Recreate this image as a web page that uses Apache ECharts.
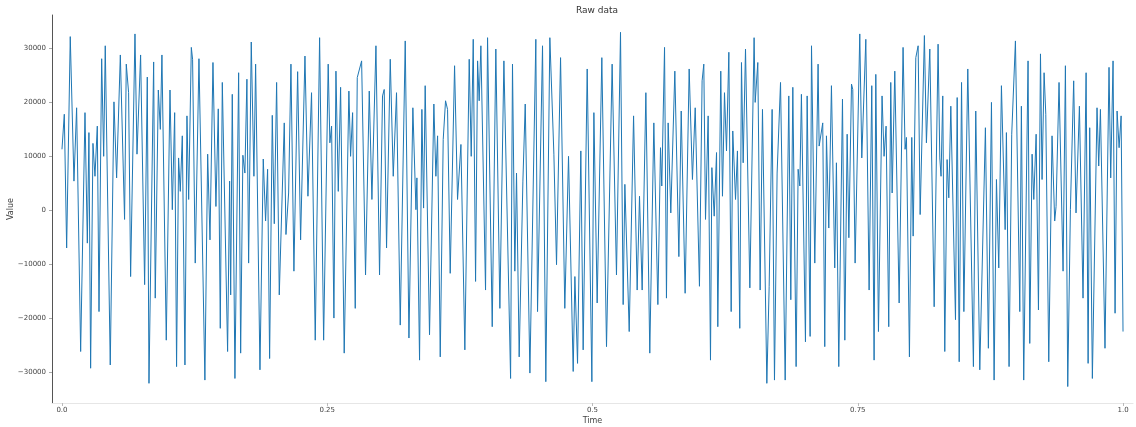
<!DOCTYPE html>
<html>
<head>
<meta charset="utf-8">
<script src="https://cdn.jsdelivr.net/npm/echarts@6/dist/echarts.min.js"></script>
<style>
html,body{margin:0;padding:0;background:#fff;}
#chart{width:1136px;height:427px;}
</style>
</head>
<body>
<div id="chart"></div>
<script>
const titleText = "Raw data";
const xLabel = "Time";
const yLabel = "Value";
const xTicks = [0, 0.25, 0.5, 0.75, 1.0];
const xTickLabels = ["0.0", "0.25", "0.5", "0.75", "1.0"];
const yTicks = [-30000, -20000, -10000, 0, 10000, 20000, 30000];

const times = [
0.0000,0.0022,0.0044,0.0078,0.0113,0.0138,0.0176,0.0217,0.0239,0.0254,0.0270,0.0292,0.0311,0.0333,0.0349,0.0374,0.0393,0.0408,0.0455,0.0490,
0.0515,0.0550,0.0590,0.0606,0.0628,0.0647,0.0688,0.0707,0.0741,0.0779,0.0804,0.0820,0.0864,0.0879,0.0908,0.0927,0.0942,0.0983,0.1018,0.1040,
0.1062,0.1080,0.1099,0.1115,0.1134,0.1159,0.1178,0.1194,0.1219,0.1231,0.1256,0.1291,0.1310,0.1347,0.1373,0.1395,0.1423,0.1451,0.1473,0.1492,
0.1511,0.1526,0.1561,0.1580,0.1590,0.1605,0.1630,0.1665,0.1684,0.1705,0.1724,0.1743,0.1759,0.1784,0.1809,0.1825,0.1866,0.1897,0.1919,0.1938,
0.1957,0.1982,0.2001,0.2023,0.2048,0.2095,0.2111,0.2136,0.2158,0.2186,0.2221,0.2249,0.2290,0.2318,0.2352,0.2387,0.2428,0.2466,0.2509,0.2525,
0.2541,0.2563,0.2582,0.2604,0.2626,0.2660,0.2704,0.2720,0.2739,0.2764,0.2783,0.2824,0.2861,0.2896,0.2921,0.2959,0.2993,0.3021,0.3037,0.3059,
0.3094,0.3122,0.3153,0.3188,0.3235,0.3270,0.3307,0.3336,0.3345,0.3370,0.3392,0.3408,0.3423,0.3464,0.3505,0.3524,0.3540,0.3565,0.3593,0.3615,
0.3634,0.3659,0.3700,0.3728,0.3760,0.3797,0.3838,0.3857,0.3876,0.3898,0.3917,0.3932,0.3948,0.3992,0.4011,0.4055,0.4089,0.4127,0.4165,0.4228,
0.4246,0.4268,0.4284,0.4309,0.4344,0.4366,0.4410,0.4466,0.4482,0.4529,0.4560,0.4598,0.4636,0.4661,0.4699,0.4739,0.4774,0.4818,0.4834,0.4859,
0.4890,0.4912,0.4950,0.4994,0.5013,0.5044,0.5088,0.5132,0.5185,0.5226,0.5264,0.5289,0.5305,0.5346,0.5387,0.5421,0.5443,0.5468,0.5503,0.5540,
0.5578,0.5616,0.5641,0.5653,0.5679,0.5697,0.5713,0.5738,0.5776,0.5814,0.5836,0.5873,0.5911,0.5942,0.5968,0.6008,0.6033,0.6049,0.6065,0.6090,
0.6112,0.6125,0.6147,0.6169,0.6181,0.6209,0.6225,0.6244,0.6263,0.6285,0.6307,0.6322,0.6348,0.6366,0.6388,0.6404,0.6420,0.6442,0.6483,0.6523,
0.6533,0.6558,0.6580,0.6602,0.6643,0.6665,0.6693,0.6715,0.6740,0.6772,0.6816,0.6850,0.6869,0.6888,0.6919,0.6938,0.6954,0.6969,0.7007,0.7023,
0.7051,0.7064,0.7095,0.7126,0.7136,0.7170,0.7189,0.7205,0.7227,0.7252,0.7283,0.7299,0.7321,0.7356,0.7378,0.7400,0.7416,0.7441,0.7453,0.7475,
0.7519,0.7538,0.7576,0.7607,0.7632,0.7654,0.7670,0.7695,0.7729,0.7748,0.7767,0.7792,0.7811,0.7824,0.7849,0.7890,0.7927,0.7946,0.7959,0.7987,
0.8009,0.8022,0.8047,0.8069,0.8088,0.8128,0.8147,0.8179,0.8220,0.8257,0.8273,0.8285,0.8301,0.8320,0.8342,0.8358,0.8377,0.8421,0.8437,0.8456,
0.8478,0.8500,0.8537,0.8556,0.8590,0.8612,0.8650,0.8703,0.8731,0.8760,0.8785,0.8807,0.8829,0.8854,0.8889,0.8901,0.8926,0.8951,0.8986,0.9027,
0.9042,0.9064,0.9105,0.9121,0.9143,0.9159,0.9181,0.9203,0.9222,0.9237,0.9256,0.9272,0.9300,0.9331,0.9356,0.9369,0.9397,0.9435,0.9457,0.9479,
0.9504,0.9535,0.9557,0.9589,0.9623,0.9652,0.9671,0.9686,0.9711,0.9755,0.9771,0.9787,0.9830,0.9868,0.9884,0.9906,0.9925,0.9944,0.9963,0.9982,
1.0000
];

const values = [
11300,17800,-7000,32200,5400,19000,-26200,18100,-6100,14400,-29300,12400,6300,15600,-18800,28100,10000,30500,-28700,20100,
6000,28800,-1700,27100,21800,-12300,32700,10400,28800,-13800,24700,-32100,27500,-16300,22300,15000,28800,-24100,22300,100,
18100,-29000,9700,3500,13800,-28700,17500,2000,30200,28000,-9800,28100,8200,-31500,10400,-5500,27400,700,18800,-21900,
23700,23800,-26200,5400,-15700,21500,-31200,25500,-26500,10200,6900,24300,-9800,31200,6300,27100,-29600,9500,-2000,7600,
-27500,17600,-2500,23700,-15700,16200,-4500,3200,27100,-11300,25700,-5500,28600,2600,21800,-24100,32000,-24100,27100,12500,
15600,-20000,25800,3500,22800,-26500,22100,10000,18100,-18200,24600,27700,-12000,22100,2000,30500,-12000,21200,22400,-7000,
28000,6300,21800,-21300,31400,-23700,19000,100,6000,-27800,18700,400,23100,-23100,19700,6300,13800,-27200,13100,20300,
18700,-11700,26800,2000,12200,-25900,28000,10000,31700,-13200,27700,20300,30500,-14800,32000,-21600,29900,-18200,27700,-31200,
27100,-11300,6900,-27200,5400,19700,-30200,31700,-18800,30500,-31800,32000,10400,-10100,28300,-18200,10000,-29900,-12300,-28400,
11000,-25900,26200,-31800,18100,-17200,28300,-25300,27100,-12000,33000,-17500,4800,-22500,17500,-14800,2600,-14800,21800,-26500,
16200,-17500,11600,4500,30200,-16300,16200,-500,25800,-8600,18400,-15400,26200,5700,19000,-14100,24000,27100,-1700,17500,
-27800,7900,-1100,10700,-21600,25800,2600,21800,11000,29300,-18800,14700,2000,11000,-21900,27400,8800,29900,-14400,32000,
20000,27400,-14800,18700,-32100,-14100,18700,-31500,6900,23700,-31500,21200,-16600,22800,-29000,7600,4500,21500,-24400,21200,
-23400,30500,-9800,27100,11900,16200,-25300,13800,-3300,23100,-10700,8800,-29000,20600,-24100,14100,-5100,23400,22400,-9800,
32700,9700,31700,-14800,23100,-27800,25200,-22500,21200,10000,15600,-21600,23700,3200,25800,-17200,30200,11300,13500,-27200,
13500,-4800,28300,30500,-800,32400,12500,29900,-17900,30800,9700,6300,21200,-26200,9400,2300,19300,-20300,20900,-28100,
23700,-18800,26200,6900,-29000,18400,-29600,15300,-25600,20000,-31500,5700,-10700,23100,-3600,14400,-29000,14100,31400,-18800,
19300,-31500,27700,-24700,10400,2000,14100,-18500,29000,5700,25500,17800,-28100,13800,-2000,700,23700,-11300,26800,-32700,
100,24000,-500,19300,-16300,25500,-28400,15300,-31200,19000,8200,18700,-25600,26500,6000,27700,-19100,18400,11600,17500,
-22500
];

const seriesData = times.map((t, i) => [t, values[i]]);

const chart = echarts.init(document.getElementById('chart'), null, {renderer: 'canvas'});
const font = "DejaVu Sans";
chart.setOption({
  animation: false,
  backgroundColor: '#ffffff',
  title: {
    text: titleText,
    left: 592, top: 1, textAlign: 'center',
    textStyle: {fontFamily: font, fontSize: 9, fontWeight: 'normal', color: '#333'}
  },
  grid: {left: 52, right: 3, top: 15, bottom: 24, containLabel: false, outerBoundsMode: 'none'},
  xAxis: {
    type: 'value',
    min: -0.0094, max: 1.0094,
    name: xLabel, nameLocation: 'middle', nameGap: 14, nameMoveOverlap: false,
    nameTextStyle: {fontFamily: font, fontSize: 8, color: '#444'},
    splitLine: {show: false},
    axisLine: {show: true, onZero: false, lineStyle: {color: '#e6e6e6', width: 1}},
    axisTick: {show: true, customValues: xTicks, length: 3, lineStyle: {color: '#bbb'}},
    axisLabel: {
      customValues: xTicks, margin: 4,
      fontFamily: font, fontSize: 7, color: '#444',
      formatter: v => { const i = xTicks.findIndex(x => Math.abs(x - v) < 1e-9); return i >= 0 ? xTickLabels[i] : ''; }
    }
  },
  yAxis: {
    type: 'value',
    min: -35750, max: 36210,
    name: yLabel, nameLocation: 'middle', nameGap: 37, nameRotate: 90, nameMoveOverlap: false,
    nameTextStyle: {fontFamily: font, fontSize: 8, color: '#444'},
    splitLine: {show: false},
    axisLine: {show: true, onZero: false, lineStyle: {color: '#555', width: 1}},
    axisTick: {show: true, customValues: yTicks, length: 3, lineStyle: {color: '#aaa'}},
    axisLabel: {
      customValues: yTicks, margin: 6,
      fontFamily: font, fontSize: 7, color: '#444',
      formatter: v => (v < 0 ? '\u2212' + Math.abs(v) : String(v))
    }
  },
  series: [{
    type: 'line',
    data: seriesData,
    showSymbol: false,
    symbol: 'none',
    lineStyle: {color: '#1f77b4', width: 1.0},
    clip: true
  }]
});
</script>
</body>
</html>
